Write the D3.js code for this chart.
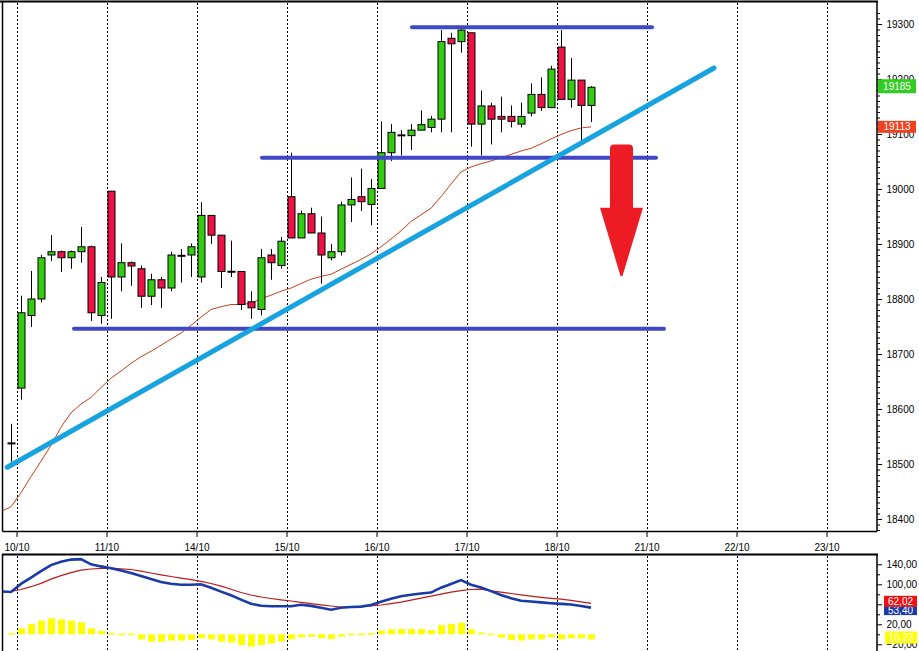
<!DOCTYPE html>
<html><head><meta charset="utf-8">
<script src="https://cdn.jsdelivr.net/npm/d3@7"></script>
<style>
body{margin:0;background:#fff;}
svg{display:block;}
text{font-family:"Liberation Sans",Arial,sans-serif;font-size:10px;fill:#000;}
</style>
</head><body>
<svg id="chart" width="919" height="651"></svg>
<script>
// ---------- DATA ----------
const dayLabels = ["10/10","11/10","14/10","15/10","16/10","17/10","18/10","21/10","22/10","23/10"];
const barsPerDay = 9;

const opens  = [18538,18638,18770,18800,18880,18886,18875,18886,18895,18770,18996,18840,18866,18855,18805,18835,18820,18878,18880,18840,18952,18916,18850,18850,18795,18781,18880,18861,18986,18911,18955,18920,18875,18886,18971,18986,18972,19001,19066,19097,19097,19107,19112,19127,19274,19268,19284,19118,19151,19132,19132,19118,19138,19172,19148,19258,19163,19198,19152];
const highs  = [18573,18806,18851,18880,18916,18888,18888,18931,18897,18840,18996,18901,18868,18861,18846,18840,18886,18891,18901,18976,18952,18916,18906,18850,18814,18891,18891,18913,19066,18961,18966,18950,18900,18977,19021,19037,19018,19123,19118,19107,19118,19143,19133,19289,19284,19291,19284,19179,19157,19168,19152,19157,19192,19203,19224,19289,19238,19198,19187];
const lows   = [18504,18617,18749,18794,18869,18849,18855,18866,18760,18755,18764,18814,18824,18784,18789,18784,18814,18830,18840,18830,18900,18820,18840,18780,18764,18770,18835,18855,18911,18911,18920,18828,18870,18879,18940,18960,18934,19000,19051,19061,19071,19107,19103,19103,19103,19248,19077,19061,19081,19103,19112,19112,19132,19142,19148,19163,19148,19087,19122];
const closes = [18537,18775,18800,18875,18886,18875,18886,18895,18775,18830,18840,18866,18860,18805,18835,18820,18880,18879,18895,18952,18916,18850,18849,18790,18784,18875,18866,18905,18911,18955,18920,18880,18886,18971,18981,18977,19001,19066,19103,19098,19107,19117,19127,19268,19264,19289,19118,19151,19127,19127,19123,19132,19172,19148,19218,19163,19198,19152,19185];

// moving average (first value belongs to the bar just before the first visible candle)
const maLine = [18414,18422,18448,18477,18505,18534,18567,18593,18609,18621,18639,18656,18669,18683,18695,18705,18716,18727,18738,18752,18767,18781,18786,18790,18790,18792,18800,18807,18814,18820,18828,18836,18841,18845,18854,18863,18872,18882,18895,18909,18924,18941,18953,18965,18986,19009,19031,19040,19046,19051,19057,19063,19069,19074,19082,19091,19099,19106,19111,19113];

// MACD panel (first value of the two lines belongs to the bar before the first candle)
const macdLine   = [86,84.6,100.8,113.2,126.2,138.4,145,149.4,150.4,140,135.8,132.2,127.6,122.6,116.4,110.6,104.4,101,99.2,99.2,100.2,93,85.4,78,69.4,61.2,57,56,56,56,59.2,56.8,53,49.2,53,54.6,55.4,58.6,65,71,76,79.2,81.6,83.4,93.2,100.6,108.4,99,93.4,86.4,78.6,72.2,67,65.6,63.8,62.2,60.8,59.6,56.6,53.4];
const signalLine = [84.6,85.6,89.6,95.2,101.8,110.4,117.4,123.2,128.2,130.6,132,132.2,131,129.6,126.2,122.6,119,115.6,112.4,109.2,105.8,101.6,96.2,90,83.6,78.6,74.6,71.6,69,66.6,63.8,61.2,59,56.6,54.6,55.2,55.6,56.8,58.6,61.4,64.2,68.2,72.2,76.2,80.2,84.2,87.4,89.6,90.4,87,84.2,81.6,78.8,76.2,74,72,70.2,68,65,62];
const histogram  = [0.6,12,20.6,27.4,32,30,27.4,24,12,6.6,0.8,-0.8,-0.8,-10,-14.6,-14.6,-12.6,-12.6,-11.4,-8,-10,-14.6,-16.6,-21.4,-24.6,-21.4,-18,-14.6,-10,-6,-4.6,-8,-9.4,-4.6,-1.2,-0.8,0.8,7.4,10,10.6,10.6,10.6,8.6,18.6,20.6,23.4,10,3.4,-2,-6.6,-11.4,-12.6,-10,-10,-6,-10,-8,-8,-10.2];

const priceTicks = [18400,18500,18600,18700,18800,18900,19000,19100,19200,19300];
const macdTicks  = [140,100,60,20,-20];

// drawn annotations: horizontal levels [price, fromBar, toBar]
const levelPrices = [19294, 19057, 18746];
const levelFrom   = [40.1, 25.1, 6.3];
const levelTo     = [64.1, 64.5, 65.3];
// trend line [bar, price] endpoints
const trendBars   = [-0.37, 70.3];
const trendPrices = [18494, 19220];
// down arrow: bar, shaft top, head base, tip
const arrowBar = 61.05;
const arrowPrices = [19081, 18966, 18842];

const lastPriceLabel = "19185", lastMaLabel = "19113";
const macdLabelRed = "62,02", macdLabelBlue = "53,40", macdLabelYellow = "10,23";

// ---------- LAYOUT ----------
const svg = d3.select("#chart");
const L = 3, R = 877, T = 2, B = 531, MT = 555, MB = 651;

const x = d3.scaleLinear().domain([0, 86.6]).range([11, 877]);
const y = d3.scaleLinear().domain([18400, 19300]).range([519, 24]);
const ym = d3.scaleLinear().domain([-20, 140]).range([644.3, 564.3]);
const dayIdx = dayLabels.map((d,i)=> 0.55 + i*barsPerDay);

svg.append("rect").attr("width",919).attr("height",651).attr("fill","#fff");

svg.append("defs").call(df=>{
  df.append("clipPath").attr("id","clipMain").append("rect").attr("x",L).attr("y",T).attr("width",R-L).attr("height",B-T);
  df.append("clipPath").attr("id","clipMacd").append("rect").attr("x",L).attr("y",MT).attr("width",R-L).attr("height",MB-MT);
});

// grid lines
const grid = svg.append("g").attr("stroke","#000").attr("stroke-width",1).attr("stroke-dasharray","2,2");
dayIdx.forEach(d=>{
  const xx = Math.round(x(d))+0.5;
  grid.append("line").attr("x1",xx).attr("x2",xx).attr("y1",T+1).attr("y2",B);
  grid.append("line").attr("x1",xx).attr("x2",xx).attr("y1",MT+1).attr("y2",MB);
});

// ---------- MAIN PANEL ----------
const main = svg.append("g").attr("clip-path","url(#clipMain)");

// moving average
main.append("path")
  .datum(maLine.map((v,i)=>[i-1,v]))
  .attr("fill","none").attr("stroke","#c8401c").attr("stroke-width",1)
  .attr("d", d3.line().x(d=>x(d[0])).y(d=>y(d[1])));

// candles
const candles = opens.map((o,i)=>({i,o,h:highs[i],l:lows[i],c:closes[i]}));
const cg = main.append("g").selectAll("g").data(candles).join("g");
cg.append("line")
  .attr("x1",d=>Math.round(x(d.i))+0.5).attr("x2",d=>Math.round(x(d.i))+0.5)
  .attr("y1",d=>y(d.h)).attr("y2",d=>y(d.l))
  .attr("stroke","#000").attr("stroke-width",1);
cg.each(function(d){
  const g = d3.select(this);
  const cx = Math.round(x(d.i));
  const top = y(Math.max(d.o,d.c)), bot = y(Math.min(d.o,d.c));
  if (bot - top < 2) {
    g.append("line").attr("x1",cx-3.5).attr("x2",cx+4.5).attr("y1",(top+bot)/2).attr("y2",(top+bot)/2)
     .attr("stroke","#000").attr("stroke-width",2);
  } else {
    g.append("rect").attr("x",cx-3).attr("y",top).attr("width",7).attr("height",bot-top)
     .attr("fill", d.c>=d.o ? "#33cc11" : "#ee1144")
     .attr("stroke","#000").attr("stroke-width",1);
  }
});

// horizontal levels
levelPrices.forEach((p,i)=>{
  main.append("line")
    .attr("x1",x(levelFrom[i])).attr("x2",x(levelTo[i]))
    .attr("y1",y(p)).attr("y2",y(p))
    .attr("stroke","#4048c6").attr("stroke-width",4).attr("stroke-linecap","round");
});

// trend line
main.append("line")
  .attr("x1",x(trendBars[0])).attr("y1",y(trendPrices[0]))
  .attr("x2",x(trendBars[1])).attr("y2",y(trendPrices[1]))
  .attr("stroke","#17a2e0").attr("stroke-width",5).attr("stroke-linecap","round");

// arrow
(function(){
  const cx = x(arrowBar), yt = y(arrowPrices[0]), yb = y(arrowPrices[1]), tip = y(arrowPrices[2]);
  const sw = 11.5, hw = 21.5, r = 4;
  const p = d3.path();
  p.moveTo(cx-sw, yb);
  p.lineTo(cx-sw, yt+r);
  p.quadraticCurveTo(cx-sw, yt, cx-sw+r, yt);
  p.lineTo(cx+sw-r, yt);
  p.quadraticCurveTo(cx+sw, yt, cx+sw, yt+r);
  p.lineTo(cx+sw, yb);
  p.lineTo(cx+hw, yb);
  p.lineTo(cx+1, tip);
  p.lineTo(cx-1, tip);
  p.lineTo(cx-hw, yb);
  p.closePath();
  main.append("path").attr("d",p.toString()).attr("fill","#ed1c24");
})();

// ---------- MACD PANEL ----------
const mg = svg.append("g").attr("clip-path","url(#clipMacd)");
mg.append("g").selectAll("rect").data(histogram).join("rect")
  .attr("x",(d,i)=>Math.round(x(i))-3).attr("width",7)
  .attr("y",d=> Math.min(ym(0), ym(d)) - (Math.abs(ym(d)-ym(0))<1.5?0.75:0))
  .attr("height",d=>Math.max(1.5, Math.abs(ym(d)-ym(0))))
  .attr("fill","#ffff00");
mg.append("path").datum(signalLine.map((v,i)=>[i-1,v]))
  .attr("fill","none").attr("stroke","#b81c1c").attr("stroke-width",1.2)
  .attr("d", d3.line().x(d=>x(d[0])).y(d=>ym(d[1])));
mg.append("path").datum(macdLine.map((v,i)=>[i-1,v]))
  .attr("fill","none").attr("stroke","#1a3aa8").attr("stroke-width",2.6)
  .attr("d", d3.line().x(d=>x(d[0])).y(d=>ym(d[1])));

// ---------- FRAMES ----------
const fr = svg.append("g").attr("stroke","#000").attr("fill","none");
fr.append("line").attr("x1",0).attr("x2",R+1).attr("y1",1.5).attr("y2",1.5).attr("stroke-width",2);
fr.append("line").attr("x1",L-0.5).attr("x2",L-0.5).attr("y1",1).attr("y2",B+0.5).attr("stroke-width",1.5);
fr.append("line").attr("x1",R).attr("x2",R).attr("y1",1).attr("y2",B+0.5).attr("stroke-width",1.5);
fr.append("line").attr("x1",L-0.5).attr("x2",R).attr("y1",B+0.5).attr("y2",B+0.5).attr("stroke-width",1.5);
fr.append("line").attr("x1",L-1).attr("x2",R+1).attr("y1",MT-0.5).attr("y2",MT-0.5).attr("stroke-width",2);
fr.append("line").attr("x1",L-0.5).attr("x2",L-0.5).attr("y1",MT-1).attr("y2",MB).attr("stroke-width",1.5);
fr.append("line").attr("x1",R).attr("x2",R).attr("y1",MT-1).attr("y2",MB).attr("stroke-width",1.5);

// x axis
const xa = svg.append("g").attr("transform",`translate(0,${B+1})`)
  .call(d3.axisBottom(x).tickValues(dayIdx).tickFormat((d,i)=>dayLabels[i]).tickSize(5).tickPadding(6.5));
xa.select(".domain").remove();
xa.selectAll("line").attr("stroke","#000");
xa.selectAll("text").attr("font-size",10).attr("fill","#000").style("font-family",'"Liberation Sans",Arial,sans-serif');

// price axis
const minorP = d3.range(18380, 19330, 10).filter(v=>v%100!==0);
const pMinor = svg.append("g").attr("transform",`translate(${R},0)`)
  .call(d3.axisRight(y).tickValues(minorP).tickSize(3).tickFormat(""));
pMinor.select(".domain").remove();
const pa = svg.append("g").attr("transform",`translate(${R},0)`)
  .call(d3.axisRight(y).tickValues(priceTicks).tickSize(5).tickPadding(4.5).tickFormat(d3.format("d")));
pa.select(".domain").remove();
pa.selectAll("text").attr("font-size",10).style("font-family",'"Liberation Sans",Arial,sans-serif');
[pMinor,pa].forEach(g=>g.selectAll("line").attr("stroke","#000"));

// macd axis
const mMinor = svg.append("g").attr("transform",`translate(${R},0)`)
  .call(d3.axisRight(ym).tickValues([120,80,40,0]).tickSize(3).tickFormat(""));
mMinor.select(".domain").remove();
const ma = svg.append("g").attr("transform",`translate(${R},0)`)
  .call(d3.axisRight(ym).tickValues(macdTicks).tickSize(5).tickPadding(4.5)
  .tickFormat(d=>d3.format(".2f")(d).replace(".",",")));
ma.select(".domain").remove();
ma.selectAll("text").attr("font-size",10.5).style("font-family",'"Liberation Sans",Arial,sans-serif');
[mMinor,ma].forEach(g=>g.selectAll("line").attr("stroke","#000"));

// value labels
function tag(cy, h, x0, w, bg, txt){
  const g = svg.append("g");
  g.append("rect").attr("x",x0).attr("y",cy-h/2).attr("width",w).attr("height",h).attr("fill",bg);
  g.append("text").attr("x",x0+w/2).attr("y",cy).attr("dy","0.36em").attr("text-anchor","middle")
   .attr("font-size",10.5).style("fill","#fff").text(txt);
}
tag(y(closes[closes.length-1])-1, 14, 878, 38, "#33cc22", lastPriceLabel);
tag(y(maLine[maLine.length-1]), 12, 878, 38, "#f0401c", lastMaLabel);
tag(ym(macdLine[macdLine.length-1])+3, 9, 884, 33, "#1a3aa8", macdLabelBlue);
tag(ym(signalLine[signalLine.length-1])-2, 11, 884, 33, "#ee1111", macdLabelRed);
tag(637.5, 12, 885, 32, "#ffff00", macdLabelYellow);
</script>
</body></html>
